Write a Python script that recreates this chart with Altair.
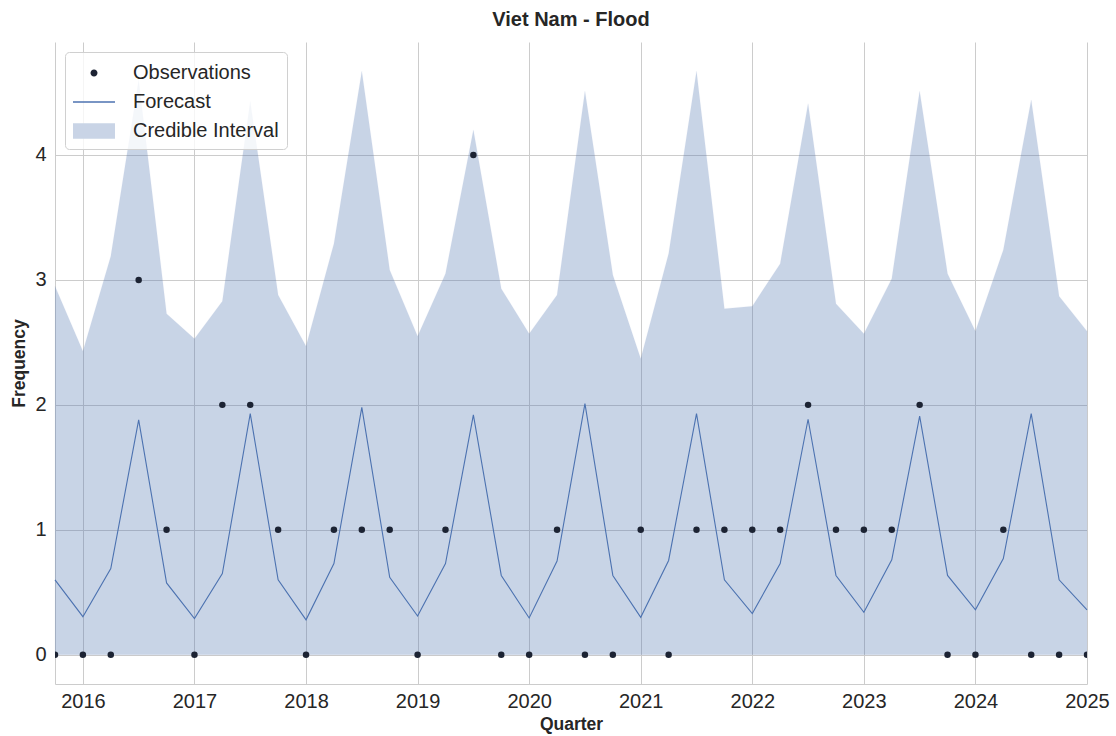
import altair as alt
import pandas as pd

quarters = [
    "2015Q4",
    "2016Q1", "2016Q2", "2016Q3", "2016Q4",
    "2017Q1", "2017Q2", "2017Q3", "2017Q4",
    "2018Q1", "2018Q2", "2018Q3", "2018Q4",
    "2019Q1", "2019Q2", "2019Q3", "2019Q4",
    "2020Q1", "2020Q2", "2020Q3", "2020Q4",
    "2021Q1", "2021Q2", "2021Q3", "2021Q4",
    "2022Q1", "2022Q2", "2022Q3", "2022Q4",
    "2023Q1", "2023Q2", "2023Q3", "2023Q4",
    "2024Q1", "2024Q2", "2024Q3", "2024Q4",
    "2025Q1",
]

observed = [0,
            0, 0, 3, 1,
            0, 2, 2, 1,
            0, 1, 1, 1,
            0, 1, 4, 0,
            0, 1, 0, 0,
            1, 0, 1, 1,
            1, 1, 2, 1,
            1, 1, 2, 0,
            0, 1, 0, 0,
            0]

forecast = [0.60,
            0.305, 0.69, 1.88, 0.575,
            0.29, 0.65, 1.93, 0.60,
            0.28, 0.73, 1.98, 0.62,
            0.31, 0.73, 1.92, 0.635,
            0.295, 0.75, 2.01, 0.635,
            0.30, 0.755, 1.93, 0.60,
            0.33, 0.73, 1.885, 0.635,
            0.34, 0.76, 1.91, 0.635,
            0.36, 0.77, 1.93, 0.60,
            0.36]

upper = [2.95,
         2.43, 3.19, 4.60, 2.73,
         2.53, 2.83, 4.43, 2.88,
         2.47, 3.29, 4.67, 3.08,
         2.55, 3.05, 4.20, 2.93,
         2.57, 2.88, 4.51, 3.04,
         2.37, 3.21, 4.67, 2.77,
         2.79, 3.13, 4.41, 2.81,
         2.57, 3.01, 4.51, 3.05,
         2.59, 3.24, 4.44, 2.87,
         2.59]

lower = [0, 0, 0, 0, 0, 0, 0, 0, 0, 0, 0, 0, 0, 0, 0, 0, 0, 0, 0,
         0, 0, 0, 0, 0, 0, 0, 0, 0, 0, 0, 0, 0, 0, 0, 0, 0, 0, 0]

year_ticks = [2016, 2017, 2018, 2019, 2020, 2021, 2022, 2023, 2024, 2025]
freq_ticks = [0, 1, 2, 3, 4]
series_names = ["Observations", "Forecast", "Credible Interval"]

# decimal year at the start of each quarter
t = [int(q[:4]) + (int(q[-1]) - 1) / 4 for q in quarters]

df = pd.DataFrame({
    "t": t,
    "quarter": quarters,
    "observed": observed,
    "forecast": forecast,
    "upper": upper,
    "lower": lower,
})

BLUE = "#4c72b0"
BAND_SWATCH = "#c9d4e6"
DOT = "#1c2333"
GRID = "#cccccc"
TXT = "#262626"
FONT = "Liberation Sans"

x_enc = alt.X(
    "t:Q",
    scale=alt.Scale(domain=[2015.75, 2025.0], nice=False, zero=False),
    axis=alt.Axis(
        values=year_ticks, format="d", title="Quarter", grid=True, ticks=False,
        labelFlush=False, labelOverlap=False,
        domainColor=GRID, gridColor=GRID, labelFontSize=20, labelColor=TXT,
        labelPadding=7, titleFontSize=17.5, titleFontWeight="bold", titleColor=TXT,
        titlePadding=4,
    ),
)
y_scale = alt.Scale(domain=[-0.2335, 4.9035], nice=False, zero=False)
y_axis = alt.Axis(
    values=freq_ticks, format="d", title="Frequency", grid=True, ticks=False,
    domainColor=GRID, gridColor=GRID, labelFontSize=20, labelColor=TXT,
    labelPadding=9, titleFontSize=17.5, titleFontWeight="bold", titleColor=TXT,
    titlePadding=6,
)

base = alt.Chart(df)

band = base.mark_area(color=BLUE, opacity=0.3, stroke=BLUE, strokeOpacity=0.15,
                      strokeWidth=0.8).encode(
    x=x_enc,
    y=alt.Y("upper:Q", scale=y_scale, axis=y_axis),
    y2="lower:Q",
)

line = base.mark_line(color=BLUE, strokeWidth=1.1).encode(
    x=x_enc,
    y=alt.Y("forecast:Q", scale=y_scale, axis=y_axis),
)

points = base.mark_point(filled=True, shape="circle", size=42, color=DOT,
                         opacity=1, clip=True).encode(
    x=x_enc,
    y=alt.Y("observed:Q", scale=y_scale, axis=y_axis),
)

# legend-only layer (no visible marks)
circle_path = "M0.885,0A0.27,0.27 0 1,1 0.345,0A0.27,0.27 0 1,1 0.885,0Z"
line_path = "M-1,-0.05L2.23,-0.05L2.23,0.05L-1,0.05Z"
rect_path = "M-1,-0.6L2.23,-0.6L2.23,0.6L-1,0.6Z"

legend_df = pd.DataFrame({"series": series_names})
legend_layer = alt.Chart(legend_df).mark_point(filled=True, size=676, strokeWidth=0,
                                               opacity=1).encode(
    color=alt.Color(
        "series:N",
        scale=alt.Scale(domain=series_names, range=[DOT, BLUE, BAND_SWATCH]),
        legend=alt.Legend(
            title=None, orient="top-left", offset=10, padding=8,
            symbolSize=676, symbolStrokeWidth=0, symbolOpacity=1, labelOffset=34,
            labelFontSize=20, labelColor=TXT, labelFont=FONT, rowPadding=6,
            fillColor="rgba(255,255,255,0.8)", strokeColor="#d0d0d0",
            cornerRadius=4,
        ),
    ),
    shape=alt.Shape(
        "series:N",
        scale=alt.Scale(domain=series_names, range=[circle_path, line_path, rect_path]),
    ),
).transform_filter(alt.datum.series == "none")

chart = alt.layer(band, line, points, legend_layer).properties(
    width=1032,
    height=642,
    title=alt.TitleParams("Viet Nam - Flood", fontSize=20, fontWeight="bold",
                          color=TXT, font=FONT, offset=12, anchor="middle"),
    padding={"left": 10, "top": 10, "right": 6, "bottom": 2},
).configure(
    font=FONT,
).configure_view(
    stroke=None,
).configure_axis(
    labelFont=FONT,
    titleFont=FONT,
)

chart.save("out.html", embed_options={"renderer": "svg", "actions": False})
